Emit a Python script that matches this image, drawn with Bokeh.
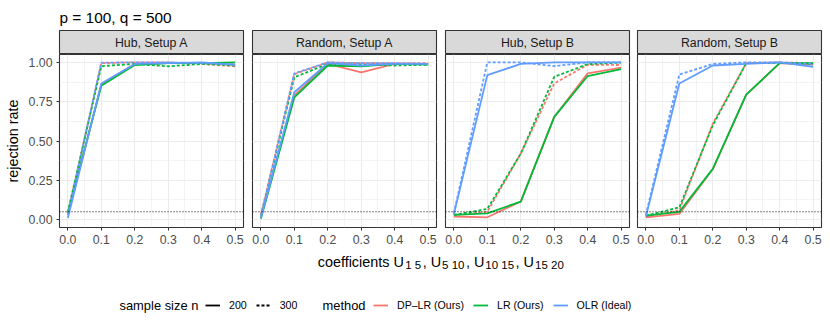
from bokeh.plotting import figure
from bokeh.models import (Range1d, FixedTicker, NumeralTickFormatter, Span, Label,
                          Legend, LegendItem)
from bokeh.layouts import column, row
from bokeh.embed import file_html
from bokeh.resources import INLINE

# ---------------- data ----------------
x_vals = [0.0, 0.1, 0.2, 0.3, 0.4, 0.5]
panel_titles = ["Hub, Setup A", "Random, Setup A", "Hub, Setup B", "Random, Setup B"]
methods = ["DP\u2013LR (Ours)", "LR (Ours)", "OLR (Ideal)"]
method_colors = ["#F8766D", "#00BA38", "#619CFF"]
sample_sizes = ["200", "300"]
x_ticks = [0.0, 0.1, 0.2, 0.3, 0.4, 0.5]
y_ticks = [0.0, 0.25, 0.5, 0.75, 1.0]
nominal_level = 0.05
xlabel_main = ["coefficients U", ", U", ", U", ", U"]
xlabel_subs = ["1 5", "5 10", "10 15", "15 20"]

# Hub, Setup A
hubA_dp_200 = [0.03, 0.86, 0.99, 0.995, 0.995, 0.985]
hubA_dp_300 = [0.04, 0.995, 1.0, 1.0, 0.99, 0.975]
hubA_lr_200 = [0.04, 0.851, 0.983, 0.995, 0.995, 1.0]
hubA_lr_300 = [0.05, 0.976, 0.99, 0.975, 0.99, 0.98]
hubA_olr_200 = [0.01, 0.866, 0.99, 0.995, 1.0, 0.985]
hubA_olr_300 = [0.03, 0.998, 1.0, 1.0, 0.995, 0.985]

# Random, Setup A
randA_dp_200 = [0.02, 0.79, 0.99, 0.936, 0.99, 0.99]
randA_dp_300 = [0.03, 0.925, 1.0, 0.995, 0.995, 0.995]
randA_lr_200 = [0.005, 0.777, 0.98, 0.975, 0.99, 0.985]
randA_lr_300 = [0.02, 0.905, 0.99, 0.985, 0.98, 0.985]
randA_olr_200 = [0.01, 0.81, 0.995, 0.98, 0.99, 0.99]
randA_olr_300 = [0.02, 0.93, 1.0, 0.995, 0.995, 0.99]

# Hub, Setup B
hubB_dp_200 = [0.02, 0.015, 0.115, 0.653, 0.93, 0.966]
hubB_dp_300 = [0.03, 0.05, 0.42, 0.866, 0.985, 0.983]
hubB_lr_200 = [0.03, 0.04, 0.115, 0.653, 0.913, 0.957]
hubB_lr_300 = [0.03, 0.068, 0.42, 0.908, 0.989, 0.998]
hubB_olr_200 = [0.035, 0.919, 0.99, 1.0, 1.0, 1.0]
hubB_olr_300 = [0.04, 1.0, 1.0, 0.976, 1.0, 1.0]

# Random, Setup B
randB_dp_200 = [0.015, 0.036, 0.32, 0.795, 0.995, 0.985]
randB_dp_300 = [0.02, 0.06, 0.61, 0.995, 1.0, 0.995]
randB_lr_200 = [0.025, 0.05, 0.323, 0.795, 0.995, 0.995]
randB_lr_300 = [0.025, 0.078, 0.6, 0.995, 0.995, 0.99]
randB_olr_200 = [0.02, 0.866, 0.98, 0.99, 1.0, 0.972]
randB_olr_300 = [0.03, 0.923, 0.99, 1.0, 1.0, 0.99]

panel_series = [
    [[hubA_dp_200, hubA_dp_300], [hubA_lr_200, hubA_lr_300], [hubA_olr_200, hubA_olr_300]],
    [[randA_dp_200, randA_dp_300], [randA_lr_200, randA_lr_300], [randA_olr_200, randA_olr_300]],
    [[hubB_dp_200, hubB_dp_300], [hubB_lr_200, hubB_lr_300], [hubB_olr_200, hubB_olr_300]],
    [[randB_dp_200, randB_dp_300], [randB_lr_200, randB_lr_300], [randB_olr_200, randB_olr_300]],
]

# ---------------- style ----------------
FONT = "Liberation Sans"
dashes = ["solid", "3 2"]
LW = 1.8
TICK_FS = "12.3px"
STRIP_FS = "12.3px"
MAIN_PX = 14.4
SUB_PX = 11.5
AXTITLE_FS = "%.1fpx" % MAIN_PX
SUB_FS = "%.1fpx" % SUB_PX
LEG_FS = "10.6px"
LEGTITLE_FS = "12.9px"
border_left = [59, 5, 5, 4]
border_right = [4, 4, 4, 4]
FW, FH = 184, 173
TOTAL_W = sum(border_left) + sum(border_right) + 4 * FW

# Arial / Liberation Sans advance widths (em) used to lay out the x title pieces
ADV = {"c": .5, "o": .556, "e": .556, "f": .278, "i": .222, "n": .556, "t": .278,
       "s": .5, " ": .278, "U": .722, ",": .278}
def text_w(txt, px):
    return sum(ADV.get(ch, .556) for ch in txt) * px

# title
TH = 30
title_fig = figure(width=TOTAL_W, height=TH, x_axis_type=None, y_axis_type=None,
                   x_range=Range1d(0, TOTAL_W), y_range=Range1d(0, TH),
                   min_border=0, outline_line_color=None, toolbar_location=None,
                   output_backend="svg")
title_fig.add_layout(Label(x=59, y=TH - 17.3, text="p = 100, q = 500", text_font=FONT,
                           text_font_size="15.4px", text_color="black",
                           text_align="left", text_baseline="alphabetic"))

strips = []
panels = []
for i in range(4):
    s = figure(frame_width=FW, frame_height=24, x_axis_type=None, y_axis_type=None,
               x_range=Range1d(0, 1), y_range=Range1d(0, 1),
               min_border_left=border_left[i], min_border_right=border_right[i],
               min_border_top=0, min_border_bottom=0,
               background_fill_color="#D9D9D9", border_fill_color="white",
               outline_line_color="#333333", outline_line_width=1.1,
               toolbar_location=None, output_backend="svg")
    s.add_layout(Label(x=0.5, y=0.5, text=panel_titles[i], text_font=FONT,
                       text_font_size=STRIP_FS, text_color="#1A1A1A",
                       text_align="center", text_baseline="middle"))
    strips.append(s)

    p = figure(frame_width=FW, frame_height=FH,
               x_range=Range1d(-0.025, 0.525), y_range=Range1d(-0.05, 1.05),
               y_axis_location="left" if i == 0 else None,
               min_border_left=border_left[i], min_border_right=border_right[i],
               min_border_top=0, min_border_bottom=20,
               background_fill_color="white", border_fill_color="white",
               outline_line_color="#333333", outline_line_width=1.1,
               toolbar_location=None, output_backend="svg")
    xt = FixedTicker(ticks=x_ticks, minor_ticks=[0.05, 0.15, 0.25, 0.35, 0.45])
    yt = FixedTicker(ticks=y_ticks, minor_ticks=[0.125, 0.375, 0.625, 0.875])
    p.xgrid.ticker = xt
    p.ygrid.ticker = yt
    for g in (p.xgrid, p.ygrid):
        g.grid_line_color = "#EBEBEB"
        g.grid_line_width = 1.1
        g.minor_grid_line_color = "#EBEBEB"
        g.minor_grid_line_width = 0.6
    axes = list(p.xaxis) + (list(p.yaxis) if i == 0 else [])
    for ax in axes:
        ax.axis_line_color = None
        ax.major_tick_line_color = "#333333"
        ax.major_tick_out = 3
        ax.major_tick_in = 0
        ax.minor_tick_line_color = None
        ax.major_label_text_font = FONT
        ax.major_label_text_font_size = TICK_FS
        ax.major_label_text_color = "#4D4D4D"
        ax.major_label_standoff = 3
    p.xaxis.ticker = xt
    p.xaxis.formatter = NumeralTickFormatter(format="0.0")
    if i == 0:
        p.yaxis.ticker = yt
        p.yaxis.formatter = NumeralTickFormatter(format="0.00")
        p.yaxis.axis_label = "rejection rate"
        p.yaxis.axis_label_text_font = FONT
        p.yaxis.axis_label_text_font_size = AXTITLE_FS
        p.yaxis.axis_label_text_font_style = "normal"
        p.yaxis.axis_label_text_color = "black"
        p.yaxis.axis_label_standoff = 5

    p.add_layout(Span(location=nominal_level, dimension="width", line_color="black",
                      line_width=1.0, line_dash="1 2"))
    for m in range(3):
        for n in range(2):
            p.line(x_vals, panel_series[i][m][n], line_color=method_colors[m],
                   line_width=LW, line_dash=dashes[n])
    panels.append(p)

# bottom: x label + legends
BH = 83
page_bottom = 247 + BH
bottom = figure(width=TOTAL_W, height=BH, x_axis_type=None, y_axis_type=None,
                x_range=Range1d(0, TOTAL_W), y_range=Range1d(0, BH),
                min_border=0, outline_line_color=None, toolbar_location=None,
                output_backend="svg")

# x-axis title with subscripts laid out piece by piece
GAP_BEFORE, GAP_AFTER = 1.0, 1.5
total = sum(text_w(mt, MAIN_PX) + GAP_BEFORE + text_w(st, SUB_PX) + GAP_AFTER
            for mt, st in zip(xlabel_main, xlabel_subs))
cx = 441 - total / 2
for mt, st in zip(xlabel_main, xlabel_subs):
    bottom.add_layout(Label(x=cx, y=page_bottom - 261.7, text=mt,
                            text_font=FONT, text_font_size=AXTITLE_FS, text_color="black",
                            text_align="left", text_baseline="alphabetic"))
    cx += text_w(mt, MAIN_PX) + GAP_BEFORE
    bottom.add_layout(Label(x=cx, y=page_bottom - 264.5, text=st,
                            text_font=FONT, text_font_size=SUB_FS, text_color="black",
                            text_align="left", text_baseline="alphabetic"))
    cx += text_w(st, SUB_PX) + GAP_AFTER

leg_cy = page_bottom - 305
bottom.add_layout(Label(x=119, y=leg_cy, text="sample size n", text_font=FONT,
                        text_font_size=LEGTITLE_FS, text_color="black",
                        text_align="left", text_baseline="middle"))
bottom.add_layout(Label(x=322, y=leg_cy, text="method", text_font=FONT,
                        text_font_size=LEGTITLE_FS, text_color="black",
                        text_align="left", text_baseline="middle"))

# legend key renderers (placed outside the visible range)
n_items = []
for n in range(2):
    r = bottom.line(x=[-100, -90], y=[-100, -100], line_color="black",
                    line_width=LW, line_dash=dashes[n])
    n_items.append(LegendItem(label=sample_sizes[n], renderers=[r]))
m_items = []
for m in range(3):
    r = bottom.line(x=[-100, -90], y=[-100, -100], line_color=method_colors[m],
                    line_width=LW)
    m_items.append(LegendItem(label=methods[m], renderers=[r]))

for items, lx in ((n_items, 205), (m_items, 373)):
    lg = Legend(items=items, orientation="horizontal", location=(lx, leg_cy - 6),
                glyph_width=15, glyph_height=12, label_height=12, label_width=0,
                label_standoff=9, spacing=9, padding=0, margin=0,
                border_line_color=None, background_fill_alpha=0,
                label_text_font=FONT, label_text_font_size=LEG_FS,
                label_text_color="black")
    bottom.add_layout(lg)

layout = column(title_fig, row(*strips), row(*panels), bottom)

with open("out.html", "w") as f:
    f.write(file_html(layout, INLINE))
